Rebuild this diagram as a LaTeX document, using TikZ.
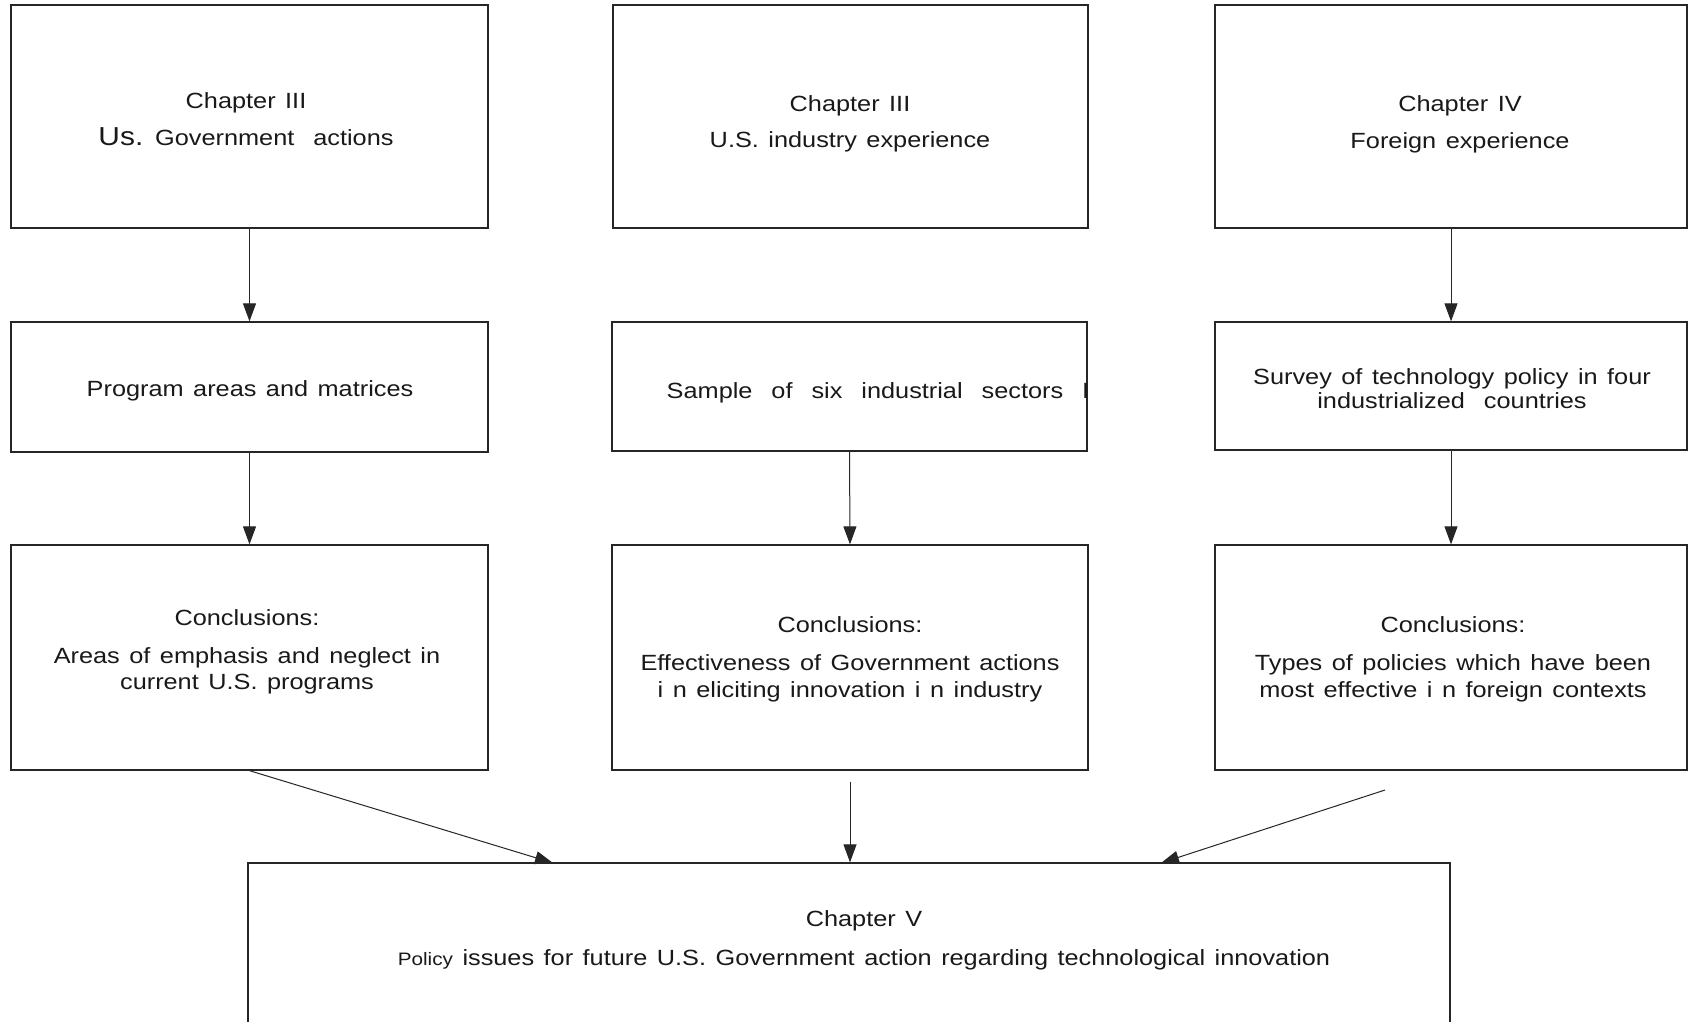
\documentclass[tikz,border=0pt]{standalone}
\usepackage{fontspec}
\setmainfont{Liberation Sans}[FakeStretch=1.15, WordSpace=1.35]
\usetikzlibrary{arrows.meta}
\begin{document}
\begin{tikzpicture}[x=1pt,y=-1pt,
  box/.style={draw=black!85, line width=1.3pt, rectangle, inner sep=0pt},
  txt/.style={align=center, font=\fontsize{22}{26}\selectfont, inner sep=0pt, text=black!90},
  arr/.style={draw=black!85, line width=1pt, -{Triangle[length=18pt,width=13pt]}}]
\useasboundingbox (0,0) rectangle (1696,1021);
\fill[white] (0,0) rectangle (1696,1021);
% boxes
\node[box, minimum width=477pt, minimum height=223pt] (A) at (249.5,116.5) {};
\node[box, minimum width=475pt, minimum height=223pt] (B) at (850.5,116.5) {};
\node[box, minimum width=472pt, minimum height=223pt] (C) at (1451,116.5) {};
\node[box, minimum width=477pt, minimum height=130pt] (D) at (249.5,387) {};
\node[box, minimum width=475pt, minimum height=129pt] (E) at (849.5,386.5) {};
\node[box, minimum width=472pt, minimum height=128pt] (F) at (1451,386) {};
\node[box, minimum width=477pt, minimum height=225pt] (G) at (249.5,657.5) {};
\node[box, minimum width=476pt, minimum height=225pt] (H) at (850,657.5) {};
\node[box, minimum width=472pt, minimum height=225pt] (I) at (1451,657.5) {};
\begin{scope}
\clip (0,0) rectangle (1696,1021);
\node[box, minimum width=1202pt, minimum height=177pt] (J) at (849,951.5) {};
\end{scope}
% texts
\node[txt] (tA) at (246,119) {Chapter III\\[11pt]{\fontsize{26}{26}\selectfont Us.} Government\ \ actions};
\node[txt] (tB) at (850,124) {Chapter III\\[10pt]U.S. industry experience};
\node[txt] (tC) at (1460,124) {Chapter IV\\[11pt]Foreign experience};
\node[txt] (tD) at (250,391) {Program areas and matrices};
\node[txt] (tE) at (878,393) {Sample\ \ of\ \ six\ \ industrial\ \ sectors\ \ I};
\node[txt] (tF) at (1452,389) {Survey of technology policy in four\\[-2pt]industrialized\ \ countries};
\node[txt] (tG) at (247,652) {Conclusions:\\[12pt]Areas of emphasis and neglect in\\current U.S. programs};
\node[txt] (tH) at (850,659) {Conclusions:\\[12pt]Effectiveness of Government actions\\[1pt]i n eliciting innovation i n industry};
\node[txt] (tI) at (1453,659) {Conclusions:\\[12pt]Types of policies which have been\\[1pt]most effective i n foreign contexts};
\node[txt] (tJ) at (864,940) {Chapter V\\[13pt]{\fontsize{18}{26}\selectfont Policy} issues for future U.S. Government action regarding technological innovation};
% connectors
\draw[arr] (A.south) -- (D.north);
\draw[arr] (D.south) -- (G.north);
\draw[arr] (E.south) -- (H.north);
\draw[arr] (C.south) -- (F.north);
\draw[arr] (F.south) -- (I.north);
\draw[arr, shorten <=11pt] (H.south) -- (H.south |- J.north);
\coordinate (jg) at (553,863);
\draw[arr] (G.south) -- (jg);
\coordinate (i0) at (1385,790);
\coordinate (ji) at (1161,863);
\draw[arr] (i0) -- (ji);
\end{tikzpicture}
\end{document}
